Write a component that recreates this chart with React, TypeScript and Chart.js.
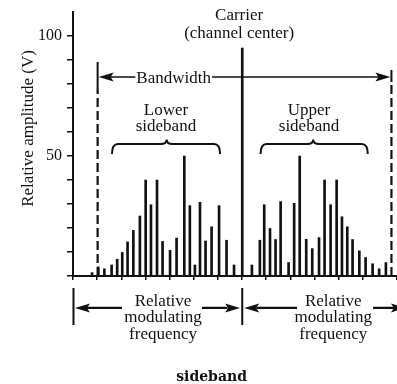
import React, { useEffect, useRef } from 'react';
import { Chart, registerables } from 'chart.js';

Chart.register(...registerables);

// ---- data ----
const lowerFreq = [7.9, 10.5, 13.0, 16.0, 18.3, 20.4, 22.6, 25.0, 27.7, 30.1, 32.3, 34.8, 37.1, 40.2, 42.9, 46.1, 48.4, 50.5, 52.6, 54.9, 57.4, 60.5, 63.6, 66.7];
const lowerAmp = [1.4, 3.8, 3.0, 4.6, 7.0, 9.8, 14.2, 19.0, 25.0, 40.0, 29.7, 40.0, 14.4, 10.7, 15.8, 50.0, 29.3, 4.6, 30.7, 14.6, 20.5, 29.3, 14.9, 4.6];
const upperFreq = [74.1, 77.4, 79.2, 81.6, 83.9, 86.0, 89.3, 91.6, 93.9, 96.6, 99.1, 101.9, 104.2, 106.7, 109.2, 111.4, 113.6, 115.8, 118.6, 121.2, 124.1, 126.8, 129.6];
const upperAmp = [4.6, 14.9, 29.7, 19.8, 15.2, 31.0, 5.6, 30.3, 50.0, 15.3, 11.4, 16.0, 40.0, 29.7, 40.0, 24.7, 20.5, 15.2, 10.5, 7.7, 5.1, 3.0, 5.6];
const carrierFreq = [70.1];
const carrierAmp = [95];
const bandEdges = [10.2, 131.9];
const bandLevel = 82.9;
const yTickLabels = [50, 100];

// ---- text ----
const carrierLabel = ['Carrier', '(channel center)'];
const bandwidthLabel = 'Bandwidth';
const lowerLabel = ['Lower', 'sideband'];
const upperLabel = ['Upper', 'sideband'];
const modLabel = ['Relative', 'modulating', 'frequency'];
const yTitle = 'Relative amplitude (V)';
const chartTitle = 'sideband';

const INK = '#111';
const SERIF = '"Liberation Serif", "Times New Roman", serif';

function arrowHead(ctx: CanvasRenderingContext2D, tipX: number, y: number, dir: number, len: number, half: number) {
  // dir = -1 points left, +1 points right
  const base = tipX - dir * len;
  ctx.beginPath();
  ctx.moveTo(tipX, y);
  ctx.lineTo(base, y - half);
  ctx.lineTo(base + dir * 3, y);
  ctx.lineTo(base, y + half);
  ctx.closePath();
  ctx.fill();
}

function brace(ctx: CanvasRenderingContext2D, x0: number, x1: number, xc: number, yEnd: number, yH: number, yPeak: number) {
  const r = 6;
  ctx.beginPath();
  ctx.moveTo(x0, yEnd);
  ctx.quadraticCurveTo(x0, yH, x0 + r, yH);
  ctx.lineTo(xc - r, yH);
  ctx.quadraticCurveTo(xc, yH, xc, yPeak);
  ctx.quadraticCurveTo(xc, yH, xc + r, yH);
  ctx.lineTo(x1 - r, yH);
  ctx.quadraticCurveTo(x1, yH, x1, yEnd);
  ctx.stroke();
}

const annotations = {
  id: 'annotations',
  afterDraw(chart: any) {
    const { ctx } = chart;
    const xs = chart.scales.x;
    const ys = chart.scales.y;
    const X = (v: number) => xs.getPixelForValue(v);
    const Y = (v: number) => ys.getPixelForValue(v);
    ctx.save();
    ctx.fillStyle = INK;
    ctx.strokeStyle = INK;
    ctx.textAlign = 'center';
    ctx.textBaseline = 'alphabetic';
    ctx.font = `17px ${SERIF}`;

    // Carrier label
    ctx.fillText(carrierLabel[0], X(68.8), Y(106.5));
    ctx.fillText(carrierLabel[1], X(68.8), Y(99.3));

    // Bandwidth arrow
    const by = Y(bandLevel);
    const lx = X(bandEdges[0]);
    const rx = X(bandEdges[1]);
    ctx.lineWidth = 2;
    ctx.beginPath();
    ctx.moveTo(lx, Y(89.2));
    ctx.lineTo(lx, Y(77.9));
    ctx.moveTo(rx, Y(85.8));
    ctx.lineTo(rx, Y(80.8));
    ctx.stroke();
    arrowHead(ctx, lx + 1, by, -1, 15, 4.5);
    arrowHead(ctx, rx - 1, by, 1, 15, 4.5);
    const tx = X(41.7);
    const tw = ctx.measureText(bandwidthLabel).width;
    ctx.fillText(bandwidthLabel, tx, Y(80.6));
    ctx.lineWidth = 1.5;
    ctx.beginPath();
    ctx.moveTo(lx + 12, by);
    ctx.lineTo(tx - tw / 2 - 1, by);
    ctx.moveTo(tx + tw / 2 + 1, by);
    ctx.lineTo(rx - 12, by);
    ctx.stroke();

    // Sideband labels
    ctx.fillText(lowerLabel[0], X(38.5), Y(67.1));
    ctx.fillText(lowerLabel[1], X(38.5), Y(60.6));
    ctx.fillText(upperLabel[0], X(97.75), Y(67.1));
    ctx.fillText(upperLabel[1], X(97.75), Y(60.6));

    // Braces
    ctx.lineWidth = 2;
    brace(ctx, X(16.15), X(60.9), X(38.8), Y(50.8), Y(55), Y(56.9));
    brace(ctx, X(77.7), X(122.1), X(99.5), Y(50.8), Y(55), Y(56.9));

    // Bottom relative modulating frequency arrows
    const ay = Y(-13.3);
    ctx.lineWidth = 2;
    ctx.beginPath();
    ctx.moveTo(X(0.2), Y(-5));
    ctx.lineTo(X(0.2), Y(-20.4));
    ctx.moveTo(X(carrierFreq[0]), Y(-5));
    ctx.lineTo(X(carrierFreq[0]), Y(-20.4));
    ctx.stroke();
    ctx.lineWidth = 2.2;
    ctx.beginPath();
    ctx.moveTo(X(5), ay);
    ctx.lineTo(X(20.3), ay);
    ctx.moveTo(X(53.4), ay);
    ctx.lineTo(X(64), ay);
    ctx.moveTo(X(76), ay);
    ctx.lineTo(X(92.8), ay);
    ctx.moveTo(X(124.3), ay);
    ctx.lineTo(X(133), ay);
    ctx.stroke();
    arrowHead(ctx, X(0.8), ay, -1, 15, 4.5);
    arrowHead(ctx, X(69.2), ay, 1, 15, 4.5);
    arrowHead(ctx, X(70.9), ay, -1, 15, 4.5);
    arrowHead(ctx, X(137.9), ay, 1, 15, 4.5);
    const mb = [-12.5, -19.2, -26.25];
    modLabel.forEach((t, i) => {
      ctx.fillText(t, X(37.3), Y(mb[i]));
      ctx.fillText(t, X(107.8), Y(mb[i]));
    });

    // Y axis title
    ctx.save();
    ctx.translate(X(-18.4), Y(61.5));
    ctx.rotate(-Math.PI / 2);
    ctx.textBaseline = 'middle';
    ctx.fillText(yTitle, 0, 0);
    ctx.restore();

    // Chart title
    ctx.font = `bold 14px "DejaVu Serif", serif`;
    ctx.fillText(chartTitle, X(57.4), Y(-43.6));
    ctx.restore();
  },
};

export default function App() {
  const ref = useRef<HTMLCanvasElement>(null);
  useEffect(() => {
    const chart = new Chart(ref.current as HTMLCanvasElement, {
      type: 'bar',
      data: {
        datasets: [
          {
            type: 'bar',
            label: 'Lower sideband',
            data: lowerFreq.map((f, i) => ({ x: f, y: lowerAmp[i] })),
            backgroundColor: INK,
            borderWidth: 0,
            barThickness: 2,
            grouped: false,
          } as any,
          {
            type: 'bar',
            label: 'Upper sideband',
            data: upperFreq.map((f, i) => ({ x: f, y: upperAmp[i] })),
            backgroundColor: INK,
            borderWidth: 0,
            barThickness: 2,
            grouped: false,
          } as any,
          {
            type: 'bar',
            label: 'Carrier',
            data: carrierFreq.map((f, i) => ({ x: f, y: carrierAmp[i] })),
            backgroundColor: INK,
            borderWidth: 0,
            barThickness: 2,
            grouped: false,
          } as any,
          {
            type: 'line',
            label: 'Lower edge',
            data: [{ x: bandEdges[0], y: 0 }, { x: bandEdges[0], y: 77.9 }],
            borderColor: INK,
            borderWidth: 2.2,
            borderDash: [9, 4],
            pointRadius: 0,
            fill: false,
          } as any,
          {
            type: 'line',
            label: 'Upper edge',
            data: [{ x: bandEdges[1], y: 0 }, { x: bandEdges[1], y: 80.8 }],
            borderColor: INK,
            borderWidth: 2.2,
            borderDash: [9, 4],
            pointRadius: 0,
            fill: false,
          } as any,
        ],
      },
      options: {
        responsive: false,
        maintainAspectRatio: false,
        devicePixelRatio: 1,
        animation: false,
        layout: { padding: { top: 12, left: 0, right: 0, bottom: 0 } },
        plugins: {
          legend: { display: false },
          tooltip: { enabled: false },
          title: { display: false },
        },
        scales: {
          x: {
            type: 'linear',
            min: 0,
            max: 134.2,
            offset: false,
            grid: { display: true, offset: false, drawOnChartArea: false, drawTicks: true, tickLength: 4, color: INK, lineWidth: 1.5 },
            border: { display: true, color: INK, width: 2 },
            ticks: { display: false, stepSize: 10 },
            afterFit: (s: any) => {
              s.height = 108;
              s.paddingLeft = 0;
              s.paddingRight = 0;
            },
          },
          y: {
            type: 'linear',
            min: 0,
            max: 110,
            grid: { display: true, drawOnChartArea: false, drawTicks: true, tickLength: 6, color: INK, lineWidth: 1.5 },
            border: { display: true, color: INK, width: 2 },
            ticks: {
              stepSize: 10,
              padding: 5,
              color: INK,
              font: { family: SERIF, size: 16 },
              callback: (v: any) => (yTickLabels.includes(Number(v)) ? String(v) : ''),
            },
            afterBuildTicks: (s: any) => {
              s.ticks = s.ticks.filter((t: any) => t.value <= 100);
            },
            afterFit: (s: any) => {
              s.width = 73;
              s.paddingTop = 0;
              s.paddingBottom = 0;
            },
          },
        },
      } as any,
      plugins: [annotations],
    });
    return () => chart.destroy();
  }, []);
  return (
    <div style={{ position: 'absolute', left: 0, top: 0, width: 397, height: 384, background: '#fff' }}>
      <canvas ref={ref} width={397} height={384} style={{ display: 'block', width: 397, height: 384 }} />
    </div>
  );
}
